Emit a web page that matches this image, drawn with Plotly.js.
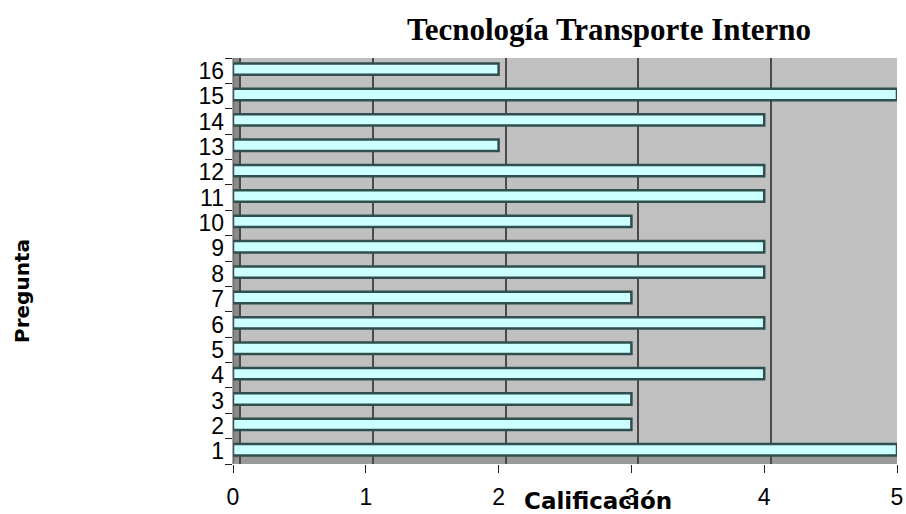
<!DOCTYPE html>
<html>
<head>
<meta charset="utf-8">
<script src="https://cdn.plot.ly/plotly-3.0.1.min.js"></script>
<style>html,body{margin:0;padding:0;background:#fff;}#chart{width:906px;height:514px;}</style>
</head>
<body>
<div id="chart"></div>
<script>
const preguntas = ["1","2","3","4","5","6","7","8","9","10","11","12","13","14","15","16"];
const calificacion = [5,3,3,4,3,4,3,4,4,3,4,4,2,4,5,2];
const xTicks = [0,1,2,3,4,5];
const chartTitle = "Tecnología Transporte Interno";
const xTitle = "Calificación";
const yTitle = "Pregunta";

const pxW = 664, pxH = 406;
const sans = "DejaVu Sans, Liberation Sans, Arial, sans-serif";
const arial = "Liberation Sans, Arial, sans-serif";
const trace = {
  type: "bar",
  orientation: "h",
  x: calificacion,
  y: preguntas,
  width: 0.45,
  offset: -0.165,
  marker: {color: "#ccffff", line: {color: "#2f4f4f", width: 2.5}},
  hoverinfo: "x+y"
};
const layout = {
  width: 906, height: 514,
  margin: {l: 233, r: 9, t: 58, b: 50},
  paper_bgcolor: "#ffffff",
  plot_bgcolor: "#c0c0c0",
  showlegend: false,
  font: {family: arial, color: "#000"},
  title: {text: "<b>" + chartTitle + "</b>", font: {family: "Liberation Serif, Times New Roman, serif", size: 31, color: "#000"},
          x: 609/906, xanchor: "center", y: 1 - 29/514, yanchor: "middle", xref: "container", yref: "container"},
  xaxis: {range: [0, 5], tickmode: "array", tickvals: xTicks, ticktext: xTicks.map(String), showgrid: false, zeroline: false,
          ticks: "outside", ticklen: 8, tickcolor: "#222", tickfont: {size: 23, family: arial}, ticklabelstandoff: 4,
          showline: false, fixedrange: true},
  xaxis2: {overlaying: "x", anchor: "y", range: [-7/132.8, 5 - 7/132.8], tickmode: "array", tickvals: xTicks, showticklabels: false,
           showgrid: true, gridcolor: "#4a4a4a", gridwidth: 2, zeroline: false, ticks: "", showline: false},
  yaxis: {type: "category", range: [-0.5, 15.5], tickmode: "array", tickvals: preguntas, ticktext: preguntas,
          tickson: "boundaries", ticks: "outside", ticklen: 7, tickcolor: "#222",
          tickfont: {size: 23, family: arial}, showgrid: false, zeroline: false, showline: false, fixedrange: true, ticklabelstandoff: 8},
  shapes: [
    {type: "rect", xref: "paper", yref: "paper", x0: 0, x1: 7/pxW, y0: 0, y1: 1, fillcolor: "#8a8a8a", line: {width: 0}, layer: "below"},
    {type: "path", xref: "paper", yref: "paper",
     path: "M 0 0 L 1 0 L 1 " + (9/pxH) + " L " + (7/pxW) + " " + (9/pxH) + " Z",
     fillcolor: "#9a9a9a", line: {width: 0}, layer: "below"},
    {type: "line", xref: "paper", yref: "paper", x0: 0, x1: 0, y0: 0, y1: 1, line: {color: "#555", width: 1}}
  ],
  annotations: [
    {text: "<b>" + yTitle + "</b>", xref: "paper", yref: "paper", x: -211/pxW, y: (464-291)/pxH, showarrow: false,
     textangle: -90, font: {size: 20, family: sans}, xanchor: "center", yanchor: "middle"},
    {text: "<b>" + xTitle + "</b>", xref: "paper", yref: "paper", x: (598-233)/pxW, y: -(501-464)/pxH, showarrow: false,
     font: {size: 23, family: sans}, xanchor: "center", yanchor: "middle"}
  ]
};
const dummy = {type: "scatter", x: [], y: [], xaxis: "x2", yaxis: "y", hoverinfo: "skip", showlegend: false};
Plotly.newPlot("chart", [dummy, trace], layout, {displayModeBar: false, staticPlot: true});
</script>
</body>
</html>
